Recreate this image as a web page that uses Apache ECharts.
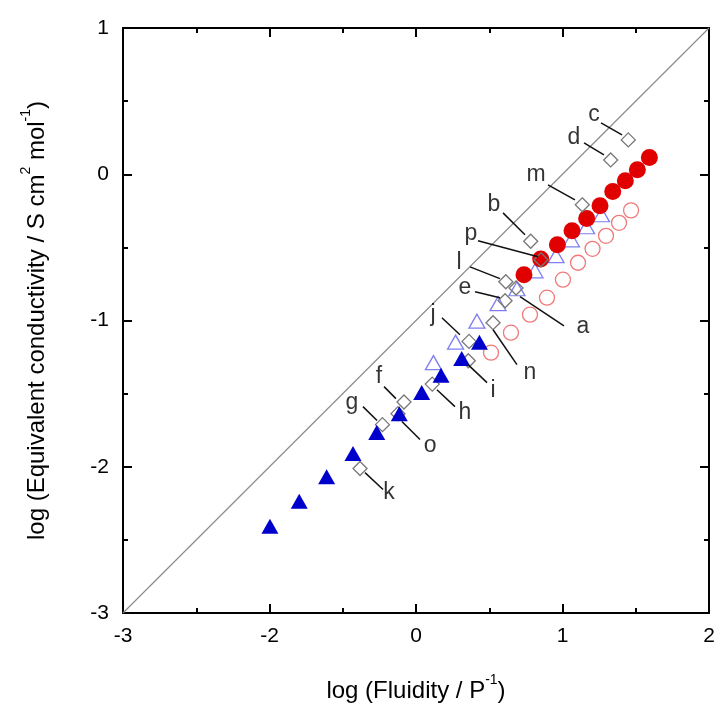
<!DOCTYPE html>
<html>
<head>
<meta charset="utf-8">
<script src="https://cdn.jsdelivr.net/npm/echarts@6/dist/echarts.min.js"></script>
<style>
html,body{margin:0;padding:0;background:#fff;}
#chart{width:720px;height:709px;}
</style>
</head>
<body>
<div id="chart"></div>
<script>
// ---- data ----
const xTickLabels = ['-3', '-2', '0', '1', '2'];
const redFilledCircles = [[-0.263,-0.687],[-0.149,-0.580],[-0.035,-0.482],[0.065,-0.387],[0.165,-0.303],[0.256,-0.216],[0.343,-0.118],[0.429,-0.045],[0.511,0.030],[0.593,0.114]];
const redOpenCircles = [[-0.488,-1.220],[-0.352,-1.083],[-0.222,-0.960],[-0.106,-0.844],[0.003,-0.721],[0.106,-0.605],[0.205,-0.510],[0.297,-0.421],[0.386,-0.332],[0.468,-0.247]];
const blueFilledTriangles = [[-1.997,-2.406],[-1.797,-2.236],[-1.610,-2.069],[-1.430,-1.910],[-1.268,-1.766],[-1.114,-1.637],[-0.961,-1.493],[-0.829,-1.374],[-0.688,-1.259],[-0.567,-1.148]];
const blueOpenTriangles = [[-0.881,-1.288],[-0.730,-1.148],[-0.584,-1.005],[-0.440,-0.885],[-0.311,-0.783],[-0.188,-0.660],[-0.044,-0.557],[0.061,-0.448],[0.164,-0.359],[0.266,-0.277]];
const diamondNames = ['a','b','c','d','e','f','g','h','i','j','k','l','m','n','o','p'];
const diamondValues = [[-0.317,-0.778],[-0.217,-0.458],[0.449,0.235],[0.329,0.098],[-0.392,-0.865],[-1.082,-1.557],[-1.229,-1.712],[-0.889,-1.435],[-0.643,-1.275],[-0.638,-1.143],[-1.382,-2.012],[-0.387,-0.735],[0.135,-0.209],[-0.474,-1.015],[-1.123,-1.637],[-0.147,-0.585]];
// label text anchor (data coords) for each diamond name
const labelAnchors = [[0.140,-1.042],[-0.468,-0.209],[0.215,0.406],[0.078,0.249],[-0.666,-0.776],[-1.253,-1.384],[-1.437,-1.561],[-0.666,-1.630],[-0.474,-1.480],[-0.884,-0.960],[-1.184,-2.176],[-0.706,-0.605],[-0.181,-0.004],[-0.222,-1.357],[-0.904,-1.855],[-0.625,-0.407]];
// leader line ends (data coords): [start, end]
const leaderLines = [
  [[-0.290,-0.837],[0.010,-1.036]],
  [[-0.406,-0.264],[-0.256,-0.414]],
  [[0.263,0.351],[0.406,0.269]],
  [[0.147,0.214],[0.283,0.133]],
  [[-0.597,-0.803],[-0.427,-0.844]],
  [[-1.218,-1.452],[-1.137,-1.534]],
  [[-1.362,-1.589],[-1.266,-1.684]],
  [[-0.857,-1.473],[-0.734,-1.589]],
  [[-0.645,-1.302],[-0.515,-1.425]],
  [[-0.823,-0.981],[-0.700,-1.097]],
  [[-1.348,-2.040],[-1.225,-2.156]],
  [[-0.631,-0.633],[-0.427,-0.714]],
  [[-0.099,-0.072],[0.085,-0.175]],
  [[-0.474,-1.063],[-0.311,-1.302]],
  [[-1.096,-1.691],[-0.973,-1.814]],
  [[-0.577,-0.455],[-0.167,-0.564]]
];
const diagonal = [[-3,-3],[1,1]];

// ---- chart ----
const FONT = 'Liberation Sans, Arial, sans-serif';
const chart = echarts.init(document.getElementById('chart'), null, {renderer: 'canvas'});

const axisBase = {
  type: 'value', min: -3, max: 1, interval: 1,
  axisLine: {show: true, onZero: false, lineStyle: {color: '#000', width: 2}},
  axisTick: {show: true, inside: true, length: 9, lineStyle: {color: '#000', width: 2}},
  minorTick: {show: true, splitNumber: 2, length: 5, lineStyle: {color: '#000', width: 2}},
  splitLine: {show: false}
};
const nameRich = {
  n: {fontSize: 24, fontFamily: FONT, color: '#000', verticalAlign: 'bottom', lineHeight: 30},
  sup: {fontSize: 14, fontFamily: FONT, color: '#000', verticalAlign: 'top', lineHeight: 14}
};

const option = {
  backgroundColor: '#fff',
  animation: false,
  grid: {left: 123, right: 11, top: 28, bottom: 96, containLabel: false},
  xAxis: [
    Object.assign({}, axisBase, {
      position: 'bottom',
      axisLabel: {show: true, color: '#000', fontSize: 21, fontFamily: FONT, margin: 13,
        formatter: function (v) { return xTickLabels[Math.round(v + 3)]; }},
      name: '{n|log (Fluidity / P}{sup|-1}{n|)}',
      nameLocation: 'middle', nameGap: 60,
      nameTextStyle: {color: '#000', fontSize: 24, fontFamily: FONT, rich: nameRich}
    }),
    Object.assign({}, axisBase, {position: 'top', axisLabel: {show: false}})
  ],
  yAxis: [
    Object.assign({}, axisBase, {
      position: 'left',
      axisLabel: {show: true, color: '#000', fontSize: 21, fontFamily: FONT, margin: 14},
      name: '{n|log (Equivalent conductivity / S cm}{sup|2}{n| mol}{sup|-1}{n|)}',
      nameLocation: 'middle', nameGap: 74, nameRotate: 90,
      nameTextStyle: {color: '#000', fontSize: 24, fontFamily: FONT, rich: nameRich}
    }),
    Object.assign({}, axisBase, {position: 'right', axisLabel: {show: false}})
  ],
  series: [
    {
      type: 'line', data: diagonal, symbol: 'none', silent: true, z: 1,
      lineStyle: {color: '#8c8c8c', width: 1.2}
    },
    {
      type: 'scatter', data: redOpenCircles, symbol: 'circle', symbolSize: 15, z: 2,
      itemStyle: {color: '#fff', borderColor: '#f07a7a', borderWidth: 1.3, opacity: 1}
    },
    {
      type: 'scatter', data: blueOpenTriangles, symbol: 'triangle', symbolSize: [16, 14], z: 3,
      itemStyle: {color: 'rgba(255,255,255,0)', borderColor: '#7f7ff0', borderWidth: 1.3, opacity: 1}
    },
    {
      type: 'scatter', data: redFilledCircles, symbol: 'circle', symbolSize: 17, z: 4,
      itemStyle: {color: '#e00000', borderWidth: 0, opacity: 1}
    },
    {
      type: 'scatter', symbol: 'diamond', symbolSize: 14, z: 5,
      data: diamondNames.map(function (n, i) { return {name: n, value: diamondValues[i]}; }),
      itemStyle: {color: 'rgba(255,255,255,0)', borderColor: '#777', borderWidth: 1.3, opacity: 1}
    },
    {
      type: 'scatter', data: blueFilledTriangles, symbol: 'triangle', symbolSize: [17, 15], z: 6,
      itemStyle: {color: '#0000cc', borderWidth: 0, opacity: 1}
    },
    {
      type: 'lines', coordinateSystem: 'cartesian2d', z: 7, silent: true,
      lineStyle: {color: '#111', width: 1.5, opacity: 1, curveness: 0},
      data: leaderLines.map(function (c) { return {coords: c}; })
    },
    {
      type: 'scatter', z: 8, symbolSize: 1, silent: true,
      itemStyle: {color: 'rgba(0,0,0,0)'},
      data: diamondNames.map(function (n, i) { return {name: n, value: labelAnchors[i]}; }),
      label: {show: true, position: 'inside', formatter: '{b}', color: '#000', fontSize: 23, fontFamily: FONT}
    }
  ]
};
chart.setOption(option);
</script>
</body>
</html>
